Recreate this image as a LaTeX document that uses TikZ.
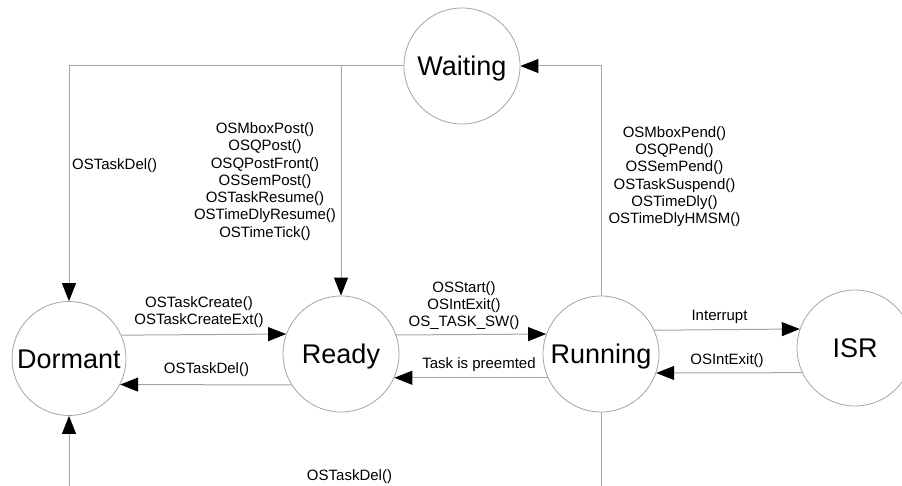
\documentclass[tikz,border=0pt]{standalone}
\usepackage{fontspec}
\setmainfont{Liberation Sans}
\usetikzlibrary{arrows.meta}
\definecolor{linegray}{RGB}{165,165,165}
\begin{document}
\begin{tikzpicture}[x=1pt,y=-1pt,
  state/.style={circle,draw=linegray,line width=0.8pt,minimum size=116pt,inner sep=0pt,text height=19.3pt,text depth=0pt,font=\fontsize{27}{30}\selectfont},
  conn/.style={draw=linegray,line width=1pt},
  arr/.style={conn,-{Triangle[length=18pt,width=14pt,black]}},
  lbl/.style={font=\fontsize{15}{17.3}\selectfont,align=center,inner sep=0pt}]
\path[use as bounding box,clip] (0,0) rectangle (902,486);
\fill[white] (0,0) rectangle (902,486);

\node[state,minimum size=114pt] (Dormant) at (69,358.5) {Dormant};
\node[state] (Ready) at (341,354) {Ready};
\node[state] (Running) at (601,354) {Running};
\node[state] (Waiting) at (462,66) {Waiting};
\node[state] (ISR) at (855,348) {ISR};

% Waiting -> Dormant / Ready
\draw[arr] (Waiting.west) -| (Dormant.north);
\draw[arr] (Waiting.west) -| (Ready.north);
% Running -> Waiting
\draw[arr] (Running.north) |- (Waiting.east);
% Dormant <-> Ready
\draw[arr] (Dormant.24.3) -- (Ready.160.9);
\draw[arr] (Ready.212.3) -- (Dormant.-27.7);
% Ready <-> Running
\draw[arr] (Ready.19.1) -- (Running.160.9);
\draw[arr] (Running.204.4) -- (Ready.-24.4);
% Running <-> ISR
\draw[arr] (Running.24.4) -- (ISR.161.9);
\draw[arr] (ISR.205.5) -- (Running.-19.1);
% Running -> Dormant (below)
\draw[arr] (Running.south) -- ++(0,100) -| (Dormant.south);

% labels
\node[lbl,anchor=west] (lDel1) at (72,166) {OSTaskDel()};
\node[lbl] (lPost) at (265,181.5) {OSMboxPost()\\OSQPost()\\OSQPostFront()\\OSSemPost()\\OSTaskResume()\\OSTimeDlyResume()\\OSTimeTick()};
\node[lbl] (lPend) at (674.5,176.5) {OSMboxPend()\\OSQPend()\\OSSemPend()\\OSTaskSuspend()\\OSTimeDly()\\OSTimeDlyHMSM()};
\node[lbl] (lCreate) at (199,312) {OSTaskCreate()\\OSTaskCreateExt()};
\node[lbl] (lDel2) at (206.5,370) {OSTaskDel()};
\node[lbl] (lStart) at (464,305.5) {OSStart()\\OSIntExit()\\OS\_TASK\_SW()};
\node[lbl] (lPre) at (479,365) {Task is preemted};
\node[lbl] (lInt) at (719.5,317) {Interrupt};
\node[lbl] (lExit) at (727,361) {OSIntExit()};
\node[lbl] (lDel3) at (349.5,477) {OSTaskDel()};
\end{tikzpicture}
\end{document}
